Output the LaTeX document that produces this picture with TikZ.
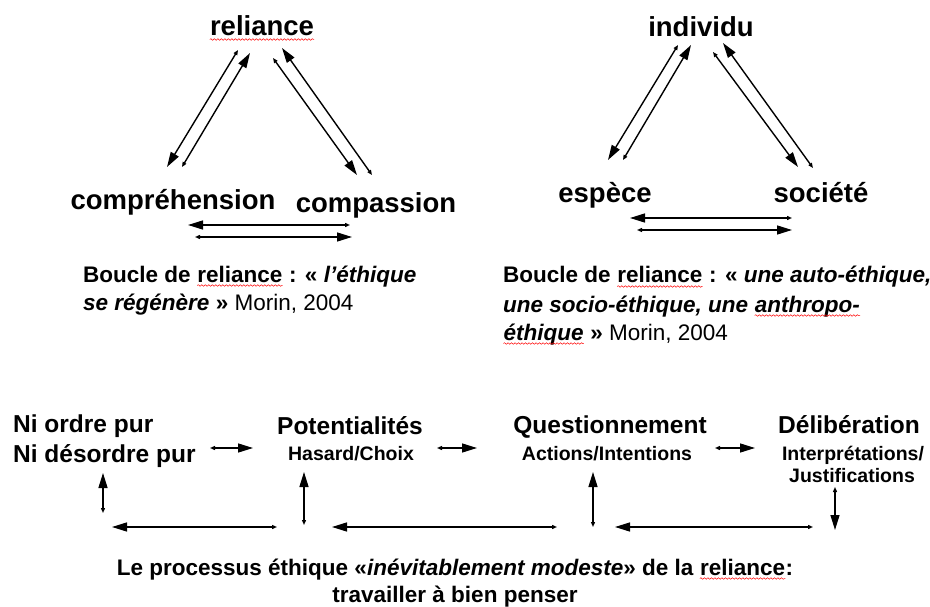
\documentclass[tikz,border=0pt]{standalone}
\usepackage{fontspec}
\setmainfont{Liberation Sans}
\usetikzlibrary{arrows.meta,decorations.pathmorphing}
\newcommand{\spell}[1]{\tikz[baseline=(sw.base)]{\node[inner sep=0pt,anchor=base] (sw) at (0,0) {#1};
  \draw[red,line width=0.5pt,decorate,decoration={snake,amplitude=0.8pt,segment length=3.5pt}]
    ([yshift=-3.5pt]sw.base west) -- ([yshift=-3.5pt]sw.base east);}}

\begin{document}
\begin{tikzpicture}[x=1pt,y=-1pt,
  lbl/.style={font=\fontsize{27.5}{33}\selectfont\bfseries,inner sep=0,anchor=base},
  capt/.style={font=\fontsize{22.5}{28}\selectfont\bfseries,inner sep=0,anchor=base west},
  head/.style={font=\fontsize{24.5}{29}\selectfont\bfseries,inner sep=0,anchor=base},
  sub/.style={font=\fontsize{19.5}{23}\selectfont\bfseries,inner sep=0,anchor=base},
  bs/.style={line width=1.4pt,{Triangle[length=15pt,width=9pt]}-{Triangle[length=5pt,width=4pt]}}]
  \useasboundingbox (0,0) rectangle (930,607);

  % the two loops
  \node[lbl] (rel) at (262,36) {\spell{reliance}};
  \node[lbl] (compr) at (173,210) {compréhension};
  \node[lbl] (compa) at (376,212) {compassion};
  \node[lbl] (indiv) at (701,37) {individu};
  \node[lbl] (esp) at (605,203) {espèce};
  \node[lbl] (soc) at (821,203) {société};

  \node[capt] (capA) at (83,282) {Boucle de \spell{reliance} : « \textit{l\char39 éthique}};
  \node[capt] (capB) at (83,310) {\textit{se régénère} » \mdseries Morin, 2004};
  \node[capt] (capC) at (503,283) {Boucle de \spell{reliance} : « \textit{une auto-éthique,}};
  \node[capt] (capD) at (503,312) {\textit{une socio-éthique, une} \spell{\textit{anthropo-}}};
  \node[capt] (capE) at (503,340) {\spell{\textit{éthique}} » \mdseries Morin, 2004};

  % the process
  \node[head,anchor=base west] (ni1) at (13,432) {Ni ordre pur};
  \node[head,anchor=base west] (ni2) at (13,462) {Ni désordre pur};
  \node[head] (pot) at (350,434) {Potentialités};
  \node[sub] (potsub) at (351,460) {Hasard/Choix};
  \node[head] (quest) at (610,433) {Questionnement};
  \node[sub] (questsub) at (607,460) {Actions/Intentions};
  \node[head] (delib) at (849,433) {Délibération};
  \node[sub] (delsub1) at (853,460) {Interprétations/};
  \node[sub] (delsub2) at (852,482) {Justifications};

  \node[capt,anchor=base] (proc1) at (455,575) {Le processus éthique «\textit{inévitablement modeste}» de la \spell{reliance}:};
  \node[capt,anchor=base] (proc2) at (455,602) {travailler à bien penser};

  % arrows: big head end B, small head end S
  \foreach \k/\bx/\by/\sx/\sy in {1/167/167/238/50, 2/250/53/182/167, 3/357/175/273/58,
      4/282/48/372/175, 5/188/225/350/225, 6/352/237/195/237,
      7/608/160/678/45, 8/691/45/623/160, 9/798/167/713/52,
      10/723/43/813/168, 11/630/218/792/218, 12/792/230/637/230,
      13/253/448/210/448, 14/477/448/437/448, 15/755/448/715/448,
      16/103/473/103/513, 17/304/472/304/525, 18/593/472/593/527,
      19/835/530/835/487, 20/112/527/277/527, 21/332/527/557/527,
      22/615/527/813/527}{
    \coordinate (B\k) at (\bx,\by);
    \coordinate (S\k) at (\sx,\sy);
    \draw[bs] (B\k) -- (S\k);
  }
\end{tikzpicture}
\end{document}
